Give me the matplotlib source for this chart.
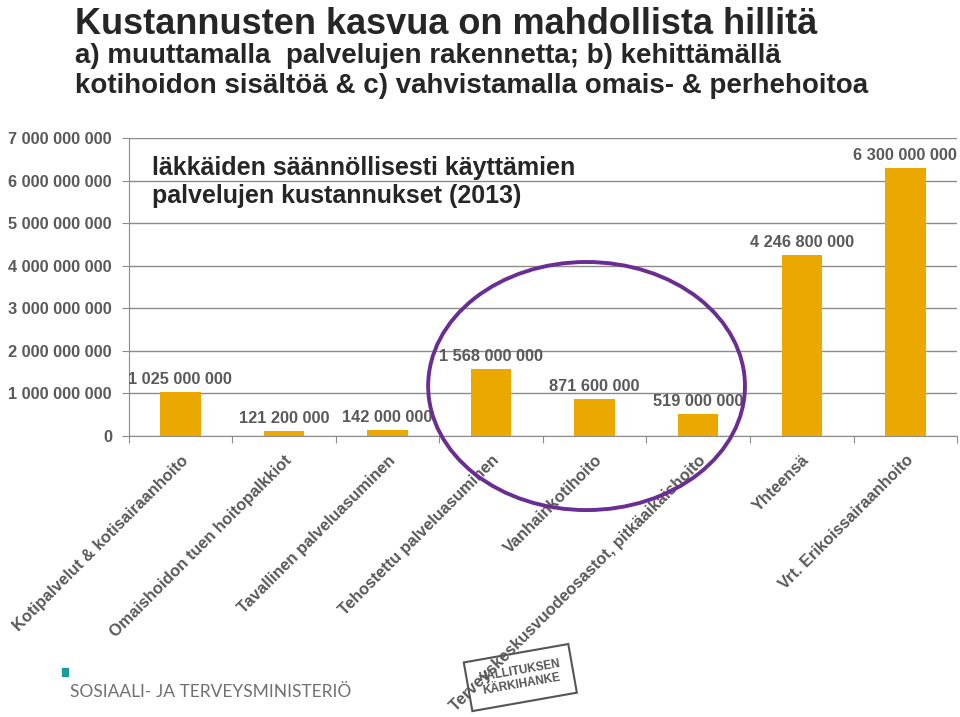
import matplotlib.pyplot as plt
import numpy as np
from matplotlib.patches import Ellipse

plt.rcParams['font.family'] = ['Liberation Sans', 'DejaVu Sans']

# data
categories = ['Kotipalvelut & kotisairaanhoito', 'Omaishoidon tuen hoitopalkkiot',
              'Tavallinen palveluasuminen', 'Tehostettu palveluasuminen',
              'Vanhainkotihoito', 'Terveyskeskusvuodeosastot, pitkäaikaishoito',
              'Yhteensä', 'Vrt. Erikoissairaanhoito']
costs = [1025000000, 121200000, 142000000, 1568000000,
         871600000, 519000000, 4246800000, 6300000000]
y_ticks = [0, 1e9, 2e9, 3e9, 4e9, 5e9, 6e9, 7e9]

title = 'Kustannusten kasvua on mahdollista hillitä'
subtitle = ('a) muuttamalla  palvelujen rakennetta; b) kehittämällä\n'
            'kotihoidon sisältöä & c) vahvistamalla omais- & perhehoitoa')
inner = 'läkkäiden säännöllisesti käyttämien\npalvelujen kustannukset (2013)'

def fmt(v):
    # thousands separated by space
    return '{:,.0f}'.format(v).replace(',', ' ')

gray = '#595959'
grid = '#8c8c8c'
bar_col = '#EBA900'

fig = plt.figure(figsize=(9.6, 7.17), dpi=100)
ax = fig.add_axes([0.134, 0.392, 0.863, 0.4155])

x = np.arange(len(categories))
ax.bar(x, costs, width=0.39, color=bar_col, zorder=3)
for xi, v in zip(x, costs):
    ax.text(xi, v + 0.12e9, fmt(v), ha='center', va='bottom',
            fontsize=11.8, fontweight='bold', color=gray)

ax.set_xlim(-0.5, len(categories) - 0.5)
ax.set_ylim(0, 7e9)
ax.set_yticks(y_ticks)
ax.set_yticklabels([fmt(v) for v in y_ticks], fontsize=11.8, fontweight='bold', color=gray)
ax.yaxis.grid(True, color=grid, lw=1, zorder=0)
ax.tick_params(axis='y', length=5, color=grid, pad=7)

ax.set_xticks(np.arange(len(categories) + 1) - 0.5)
ax.set_xticklabels([])
ax.set_xticks(x, minor=True)
ax.set_xticklabels(categories, minor=True, rotation=45, ha='right', va='top',
                   rotation_mode='anchor', fontsize=11.8, fontweight='bold', color=gray)
ax.tick_params(axis='x', which='major', length=5, color=grid)
ax.tick_params(axis='x', which='minor', length=0, pad=12)

for s in ['top', 'right']:
    ax.spines[s].set_visible(False)
for s in ['left', 'bottom']:
    ax.spines[s].set_color(grid)

# titles
fig.text(0.078, 0.99, title, fontsize=26, fontweight='bold', color='#262626', va='top')
fig.text(0.078, 0.94, subtitle, fontsize=20, fontweight='bold', color='#262626',
         va='top', linespacing=1.2)
ax.text(0.028, 0.94, inner, transform=ax.transAxes, fontsize=18,
        fontweight='bold', color='#262626', va='top', linespacing=1.2)

# circle around the structural services
fig.patches.append(Ellipse((0.611, 0.4616), 0.330, 0.346, transform=fig.transFigure,
                           fill=False, ec='#6A2D91', lw=2.8, zorder=5))

# logo
fig.patches.append(plt.Rectangle((0.0646, 0.057), 0.0065, 0.011, transform=fig.transFigure,
                                 color='#1f9a9a'))
fig.text(0.073, 0.028, 'SOSIAALI- JA TERVEYSMINISTERIÖ', fontsize=12.5,
         color='#707070', fontweight='normal', family=['Lato', 'Liberation Sans', 'DejaVu Sans'])

# stamp
fig.text(0.542, 0.055, 'HALLITUKSEN\nKÄRKIHANKE', fontsize=8.5, fontweight='bold',
         color='#555555', rotation=10, ha='center', va='center',
         bbox=dict(boxstyle='square,pad=1.0', fc='none', ec='#555555', lw=1.5))

fig.savefig('out.png', dpi=100)
